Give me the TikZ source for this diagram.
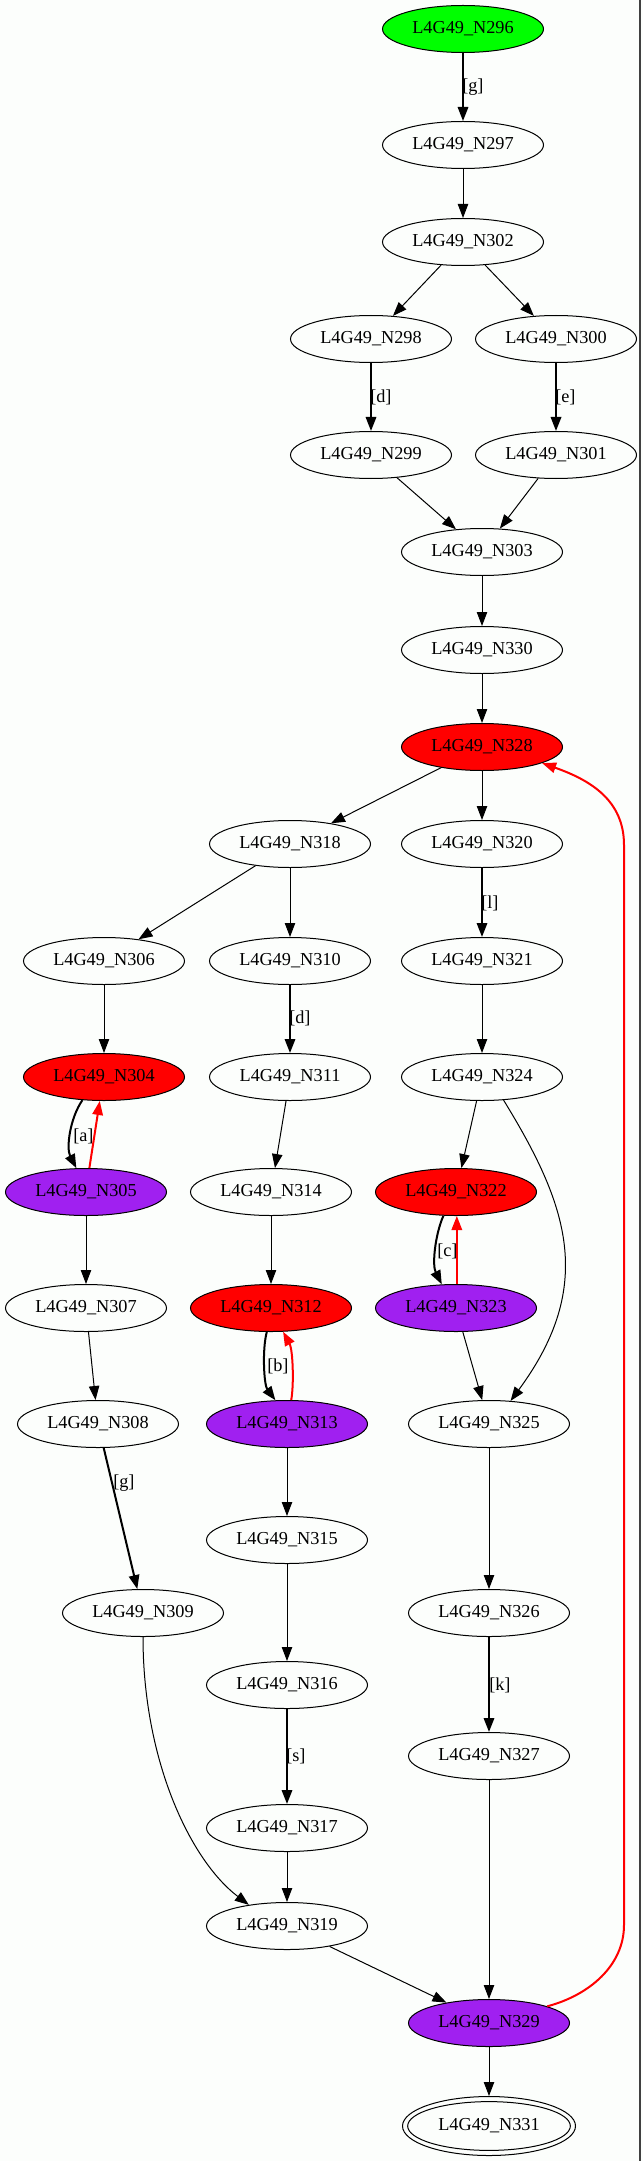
\documentclass[tikz,border=0pt]{standalone}
\usepackage{fontspec}
\setmainfont{Liberation Serif}
\usetikzlibrary{arrows.meta,shapes.geometric}
\definecolor{bgc}{RGB}{252,254,252}
\definecolor{gvgreen}{RGB}{0,255,0}
\definecolor{gvred}{RGB}{255,0,0}
\definecolor{gvpurple}{RGB}{160,32,240}
\definecolor{frame}{RGB}{64,64,64}
\begin{document}
\begin{tikzpicture}[x=0.75pt,y=-0.75pt,
  every node/.style={font=\fontsize{13.7pt}{16pt}\selectfont},
  st/.style={ellipse, draw, line width=0.75pt, minimum width=120.75pt, minimum height=35.25pt, inner sep=0pt},
  green/.style={st, fill=gvgreen},
  redn/.style={st, fill=gvred},
  purp/.style={st, fill=gvpurple},
  final/.style={st, minimum width=129.75pt, minimum height=44.25pt},
  lbl/.style={anchor=west, inner sep=0pt},
  e/.style={draw, line width=0.75pt, -{Triangle[length=10.5pt,width=7.8pt]}},
  eb/.style={e, line width=1.5pt},
  er/.style={eb, draw=gvred, -{Triangle[length=10.5pt,width=7.8pt,fill=gvred]}}
]
\useasboundingbox (0,0) rectangle (643,2161);
\fill[bgc] (0,0) rectangle (643,2161);
\draw[frame, line width=1.1pt] (640,0) -- (640,2161);

% nodes
\node[green] (N296) at (463,29) {L4G49\_N296};
\node[st] (N297) at (463,145) {L4G49\_N297};
\node[st] (N302) at (463,242) {L4G49\_N302};
\node[st] (N298) at (371,339) {L4G49\_N298};
\node[st] (N300) at (556,339) {L4G49\_N300};
\node[st] (N299) at (371,455) {L4G49\_N299};
\node[st] (N301) at (556,455) {L4G49\_N301};
\node[st] (N303) at (482,552) {L4G49\_N303};
\node[st] (N330) at (482,650) {L4G49\_N330};
\node[redn] (N328) at (482,747) {L4G49\_N328};
\node[st] (N318) at (290,844) {L4G49\_N318};
\node[st] (N320) at (482,844) {L4G49\_N320};
\node[st] (N306) at (104,961) {L4G49\_N306};
\node[st] (N310) at (290,961) {L4G49\_N310};
\node[st] (N321) at (482,961) {L4G49\_N321};
\node[redn] (N304) at (104,1077) {L4G49\_N304};
\node[st] (N311) at (290,1077) {L4G49\_N311};
\node[st] (N324) at (482,1077) {L4G49\_N324};
\node[purp] (N305) at (86,1192) {L4G49\_N305};
\node[st] (N314) at (271,1192) {L4G49\_N314};
\node[redn] (N322) at (456,1192) {L4G49\_N322};
\node[st] (N307) at (86,1308) {L4G49\_N307};
\node[redn] (N312) at (271,1308) {L4G49\_N312};
\node[purp] (N323) at (456,1308) {L4G49\_N323};
\node[st] (N308) at (98,1424) {L4G49\_N308};
\node[purp] (N313) at (287,1424) {L4G49\_N313};
\node[st] (N325) at (489,1424) {L4G49\_N325};
\node[st] (N315) at (287,1540) {L4G49\_N315};
\node[st] (N309) at (143,1613) {L4G49\_N309};
\node[st] (N326) at (489,1613) {L4G49\_N326};
\node[st] (N316) at (287,1685) {L4G49\_N316};
\node[st] (N327) at (489,1756) {L4G49\_N327};
\node[st] (N317) at (287,1828) {L4G49\_N317};
\node[st] (N319) at (287,1926) {L4G49\_N319};
\node[purp] (N329) at (489,2023) {L4G49\_N329};
\node[final] (N331) at (489,2126) {L4G49\_N331};
\draw[line width=0.75pt] (N331.center) ellipse [x radius=61pt, y radius=18.3pt];

% edges
\draw[eb] (N296) -- (N297);
\draw[e] (N297) -- (N302);
\draw[e] (N302) -- (N298);
\draw[e] (N302) -- (N300);
\draw[eb] (N298) -- (N299);
\draw[eb] (N300) -- (N301);
\draw[e] (N299) -- (N303);
\draw[e] (N301) -- (N303);
\draw[e] (N303) -- (N330);
\draw[e] (N330) -- (N328);
\draw[e] (N328) -- (N318);
\draw[e] (N328) -- (N320);
\draw[eb] (N320) -- (N321);
\draw[e] (N318) -- (N306);
\draw[e] (N318) -- (N310);
\draw[eb] (N310) -- (N311);
\draw[e] (N321) -- (N324);
\draw[e] (N306) -- (N304);
\draw[eb] (N304.227) .. controls (70,1118) and (66,1148) .. (N305.112);
\draw[er] (N305.82) -- (N304.260);
\draw[e] (N311) -- (N314);
\draw[e] (N324) -- (N322);
\draw[e] (N324.313) .. controls (568,1205) and (596,1285) .. (N325.47);
\draw[eb] (N322.242) .. controls (435,1235) and (432,1265) .. (N323.121);
\draw[er] (N323.88) -- (N322.272);
\draw[e] (N305) -- (N307);
\draw[e] (N314) -- (N312);
\draw[e] (N323) -- (N325);
\draw[eb] (N312.260) .. controls (262,1350) and (264,1385) .. (N313.116);
\draw[er] (N313.80) .. controls (294,1385) and (293,1350) .. (N312.297);
\draw[e] (N307) -- (N308);
\draw[eb] (N308) -- (N309);
\draw[e] (N313) -- (N315);
\draw[e] (N325) -- (N326);
\draw[e] (N315) -- (N316);
\draw[eb] (N326) -- (N327);
\draw[eb] (N316) -- (N317);
\draw[e] (N309.270) .. controls (143,1760) and (190,1860) .. (N319.151);
\draw[e] (N317) -- (N319);
\draw[e] (N319) -- (N329);
\draw[e] (N327) -- (N329);
\draw[er] (N329.16) .. controls (590,1995) and (624,1965) .. (624,1925) -- (624,845) .. controls (624,800) and (590,780) .. (N328.345);
\draw[e] (N329) -- (N331);

% labels
\node[lbl] (Lg1) at (462,87) {[g]};
\node[lbl] (Ld1) at (370,397) {[d]};
\node[lbl] (Le) at (555,397) {[e]};
\node[lbl] (Ll) at (481,903) {[l]};
\node[lbl] (Ld2) at (289,1018) {[d]};
\node[lbl] (La) at (73,1136) {[a]};
\node[lbl] (Lc) at (437,1251) {[c]};
\node[lbl] (Lb) at (267,1366) {[b]};
\node[lbl] (Lg2) at (113,1483) {[g]};
\node[lbl] (Lk) at (489,1685) {[k]};
\node[lbl] (Ls) at (286,1756) {[s]};
\end{tikzpicture}
\end{document}
